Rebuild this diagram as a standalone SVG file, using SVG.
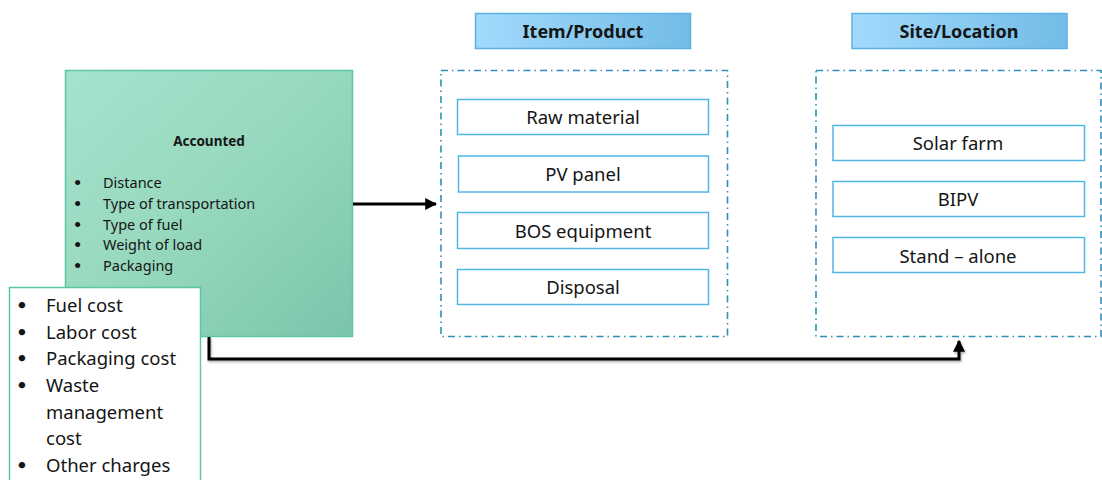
<svg xmlns="http://www.w3.org/2000/svg" width="1102" height="480" viewBox="0 0 1102 480">
  <defs>
    <linearGradient id="greenFill" x1="0" y1="0" x2="1" y2="1">
      <stop offset="0" stop-color="#a6e3cd"/>
      <stop offset="0.5" stop-color="#96d8be"/>
      <stop offset="1" stop-color="#7bc5aa"/>
    </linearGradient>
    <linearGradient id="blueFill" x1="0" y1="0" x2="1" y2="0">
      <stop offset="0" stop-color="#a3dafc"/>
      <stop offset="1" stop-color="#72bce6"/>
    </linearGradient>
    <marker id="arrowHead" viewBox="0 0 10 10" refX="9" refY="5" markerWidth="4" markerHeight="4" orient="auto">
      <path d="M0,0 L10,5 L0,10 z" fill="#000"/>
    </marker>
    <filter id="lineShadow" x="-5%" y="-50%" width="110%" height="200%">
      <feDropShadow dx="1" dy="1.5" stdDeviation="1" flood-color="#000" flood-opacity="0.35"/>
    </filter>
  </defs>
  <style>
    text { font-family: "Noto Sans", "Liberation Sans", sans-serif; fill: #151515; }
    .header rect { fill: url(#blueFill); stroke: #5ab3e4; stroke-width: 1.5; }
    .header text { font-size: 18px; font-weight: bold; text-anchor: middle; }
    .group { fill: none; stroke: #2f8fb9; stroke-width: 1.6; stroke-dasharray: 7 4 1.5 4; }
    .item rect { fill: #fff; stroke: #4fb6e6; stroke-width: 1.5; }
    .item text { font-size: 18.5px; text-anchor: middle; }
    .small { font-size: 14.5px; }
    .cost { font-size: 18.5px; }
    .dot { font-family: "DejaVu Sans", sans-serif; font-weight: bold; }
    .conn { fill: none; stroke: #000; stroke-width: 3; }
  </style>
  <rect width="1102" height="480" fill="#fff"/>

  <!-- factors box -->
  <g id="accounted">
    <rect x="65.5" y="70.5" width="287" height="266" fill="url(#greenFill)" stroke="#5cc7a2" stroke-width="1.5"/>
    <text x="209" y="146" font-size="13.5" font-weight="bold" text-anchor="middle">Accounted</text>
    <g class="small">
      <text class="dot" x="73" y="188">•</text><text x="103" y="188">Distance</text>
      <text class="dot" x="73" y="209">•</text><text x="103" y="209">Type of transportation</text>
      <text class="dot" x="73" y="230">•</text><text x="103" y="230">Type of fuel</text>
      <text class="dot" x="73" y="250">•</text><text x="103" y="250">Weight of load</text>
      <text class="dot" x="73" y="271">•</text><text x="103" y="271">Packaging</text>
    </g>
  </g>

  <!-- connectors -->
  <g id="connectors">
    <path class="conn" d="M353,204 H436" marker-end="url(#arrowHead)"/>
    <path class="conn" d="M209,337 V359 H959 V341" filter="url(#lineShadow)" marker-end="url(#arrowHead)"/>
  </g>

  <!-- cost list -->
  <g id="costs">
    <rect x="9.5" y="287.5" width="191" height="200" fill="#fff" stroke="#5cc7a2" stroke-width="1.5"/>
    <g class="cost">
      <text class="dot" x="16" y="312">•</text><text x="46" y="312">Fuel cost</text>
      <text class="dot" x="16" y="339">•</text><text x="46" y="339">Labor cost</text>
      <text class="dot" x="16" y="365">•</text><text x="46" y="365">Packaging cost</text>
      <text class="dot" x="16" y="392">•</text><text x="46" y="392">Waste</text>
      <text x="46" y="419">management</text>
      <text x="46" y="445">cost</text>
      <text class="dot" x="16" y="472">•</text><text x="46" y="472">Other charges</text>
    </g>
  </g>

  <!-- headers -->
  <g id="header-item" class="header">
    <rect x="475.5" y="13.5" width="215" height="35"/>
    <text x="583" y="38">Item/Product</text>
  </g>
  <g id="header-site" class="header">
    <rect x="852" y="13.5" width="215" height="35"/>
    <text x="959" y="38">Site/Location</text>
  </g>

  <!-- item/product group -->
  <g id="products">
    <rect class="group" x="441" y="70.5" width="286.5" height="266"/>
    <g id="raw-material" class="item">
      <rect x="457.5" y="99.5" width="251" height="35"/>
      <text x="583" y="124">Raw material</text>
    </g>
    <g id="pv-panel" class="item">
      <rect x="458.5" y="156" width="250" height="36"/>
      <text x="583" y="181">PV panel</text>
    </g>
    <g id="bos-equipment" class="item">
      <rect x="457.5" y="212.5" width="251" height="36"/>
      <text x="583" y="238">BOS equipment</text>
    </g>
    <g id="disposal" class="item">
      <rect x="457.5" y="269.5" width="251" height="35"/>
      <text x="583" y="294">Disposal</text>
    </g>
  </g>

  <!-- site/location group -->
  <g id="sites">
    <rect class="group" x="816" y="70.5" width="285" height="266"/>
    <g id="solar-farm" class="item">
      <rect x="833" y="125.5" width="251.5" height="35"/>
      <text x="958" y="150">Solar farm</text>
    </g>
    <g id="bipv" class="item">
      <rect x="833" y="181.5" width="251.5" height="35"/>
      <text x="958" y="206">BIPV</text>
    </g>
    <g id="stand-alone" class="item">
      <rect x="833" y="237.5" width="251.5" height="35"/>
      <text x="958" y="263">Stand – alone</text>
    </g>
  </g>
</svg>
